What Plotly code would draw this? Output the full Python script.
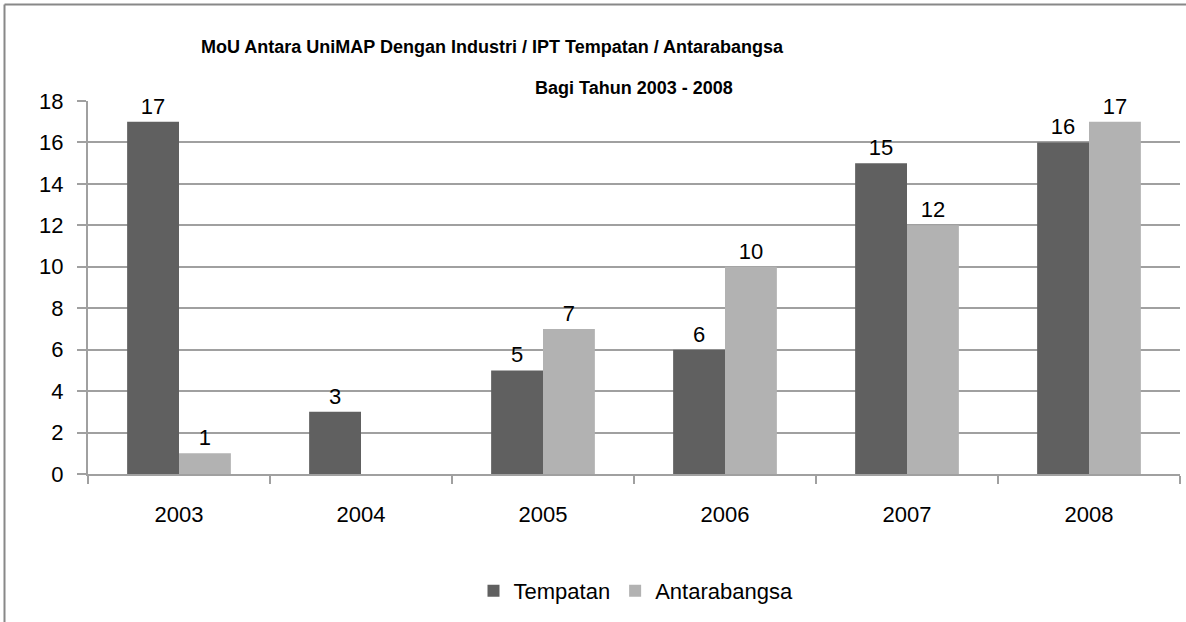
import plotly.graph_objects as go

years = ["2003", "2004", "2005", "2006", "2007", "2008"]
tempatan = [17, 3, 5, 6, 15, 16]
antarabangsa = [1, None, 7, 10, 12, 17]
y_ticks = [0, 2, 4, 6, 8, 10, 12, 14, 16, 18]
title_line1 = "MoU Antara UniMAP Dengan Industri / IPT Tempatan / Antarabangsa"
title_line2 = "Bagi Tahun 2003 - 2008"

FONT = "Liberation Sans Narrow, Arial Narrow, Liberation Sans, Arial, sans-serif"
PW, PH, L, T = 1092, 373, 88, 101

def labels(vals):
    return ["" if v is None else str(v) for v in vals]

def px(x):
    return (x - L) / PW

def py(y):
    return (T + PH - y) / PH

fig = go.Figure()
fig.add_trace(go.Bar(
    name="Tempatan", x=years, y=tempatan,
    marker=dict(color="#606060", line=dict(width=0)),
    text=labels(tempatan), textposition="outside",
    textfont=dict(size=22, color="#000000", family=FONT),
    cliponaxis=False,
))
fig.add_trace(go.Bar(
    name="Antarabangsa", x=years, y=antarabangsa,
    marker=dict(color="#b2b2b2", line=dict(width=0)),
    text=labels(antarabangsa), textposition="outside",
    textfont=dict(size=22, color="#000000", family=FONT),
    cliponaxis=False,
))

fig.update_layout(
    width=1186, height=622,
    margin=dict(l=L, r=1186 - L - PW, t=T, b=622 - T - PH),
    paper_bgcolor="white", plot_bgcolor="white",
    font=dict(family=FONT, size=22, color="#000000"),
    barmode="group", bargap=0.43, bargroupgap=0,
    legend=dict(
        orientation="h", x=px(636), xanchor="center", y=py(591), yanchor="middle",
        font=dict(family=FONT, size=22, color="#000000"),
        traceorder="normal",
    ),
    showlegend=True,
)

fig.add_annotation(
    text="<b>" + title_line1 + "</b>", xref="paper", yref="paper",
    x=px(492), y=py(47), xanchor="center", yanchor="middle", showarrow=False,
    font=dict(family=FONT, size=18, color="#000000"),
)
fig.add_annotation(
    text="<b>" + title_line2 + "</b>", xref="paper", yref="paper",
    x=px(634), y=py(88), xanchor="center", yanchor="middle", showarrow=False,
    font=dict(family=FONT, size=18, color="#000000"),
)

fig.update_xaxes(
    type="category",
    showline=True, linecolor="#a0a0a0", linewidth=2,
    ticks="outside", ticklen=8, tickcolor="#a0a0a0", tickwidth=2,
    tickson="boundaries", showgrid=False,
    ticklabelstandoff=20,
    tickfont=dict(family=FONT, size=22, color="#000000"),
)
fig.update_yaxes(
    range=[0, 18], tickvals=y_ticks,
    showline=True, linecolor="#a0a0a0", linewidth=2,
    ticks="outside", ticklen=9, tickcolor="#a0a0a0", tickwidth=2,
    showgrid=True, gridcolor="#a0a0a0", gridwidth=2,
    zeroline=False,
    ticklabelstandoff=9,
    tickfont=dict(family=FONT, size=22, color="#000000"),
)

# outer chart border (left and top edges visible)
fig.add_shape(type="line", xref="paper", yref="paper",
              x0=px(4.5), x1=px(4.5), y0=py(640), y1=py(4.5),
              line=dict(color="#888888", width=2))
fig.add_shape(type="line", xref="paper", yref="paper",
              x0=px(4.5), x1=px(1200), y0=py(4.5), y1=py(4.5),
              line=dict(color="#888888", width=2))

fig.write_html(
    "out.html",
    config={"displayModeBar": False},
    post_script="document.body.style.margin='0';document.body.style.padding='0';",
)
